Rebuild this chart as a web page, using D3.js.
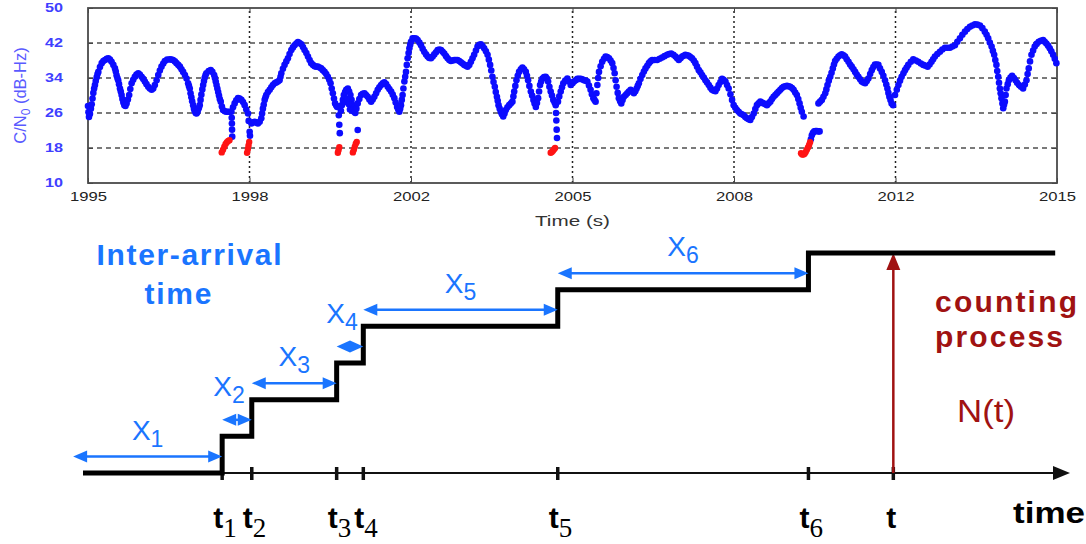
<!DOCTYPE html>
<html><head><meta charset="utf-8">
<script src="https://cdn.jsdelivr.net/npm/d3@7"></script>
<style>body{margin:0;background:#fff}svg{display:block}</style>
</head><body><svg id="c" width="1086" height="544"></svg>
<script>
// ---------- top panel data ----------
const yearTicks = [0,1,2,3,4,5,6];
const yearLabels = ["1995","1998","2002","2005","2008","2012","2015"];
const cnTicks = [10,18,26,34,42,50];
const cnGrid = [18,26,34,42];
// [time (tick units), C/N0 dB-Hz]
const blueSamples = [
[0.000,27.6],[0.003,26.2],[0.006,25.1],[0.012,25.8],[0.018,27.0],[0.023,28.0],[0.028,29.3],[0.033,30.6],[0.038,31.6],[0.043,32.4],[0.048,33.3],[0.054,34.2],[0.059,34.9],[0.064,35.4],[0.074,36.5],[0.085,37.4],[0.095,37.9],[0.105,38.1],[0.116,38.4],[0.126,38.5],[0.136,38.2],[0.146,37.7],[0.157,37.0],[0.167,36.2],[0.172,35.5],[0.177,34.6],[0.182,34.0],[0.187,33.5],[0.192,32.6],[0.198,31.6],[0.203,30.9],[0.208,30.1],[0.213,29.2],[0.219,28.4],[0.225,27.8],[0.232,27.6],[0.239,28.2],[0.247,29.1],[0.255,30.1],[0.262,31.5],[0.270,32.8],[0.280,33.6],[0.290,34.3],[0.300,34.8],[0.311,35.1],[0.321,34.8],[0.332,34.3],[0.342,33.8],[0.352,33.2],[0.362,32.6],[0.373,32.0],[0.383,31.6],[0.394,31.3],[0.404,31.6],[0.414,32.4],[0.425,33.5],[0.435,34.7],[0.445,35.7],[0.455,36.6],[0.466,37.3],[0.476,37.9],[0.490,38.2],[0.507,38.3],[0.517,38.2],[0.527,38.1],[0.538,37.8],[0.548,37.4],[0.559,37.0],[0.569,36.6],[0.579,36.0],[0.589,35.4],[0.600,34.7],[0.610,33.9],[0.620,32.8],[0.625,32.2],[0.630,31.6],[0.635,30.5],[0.640,29.6],[0.645,28.7],[0.651,27.8],[0.656,27.0],[0.661,26.4],[0.667,26.0],[0.672,25.9],[0.677,26.2],[0.682,26.8],[0.687,27.2],[0.692,27.8],[0.697,29.0],[0.702,30.2],[0.708,31.4],[0.713,32.4],[0.718,33.3],[0.723,34.1],[0.728,34.7],[0.733,35.1],[0.747,35.6],[0.760,35.8],[0.770,35.4],[0.781,34.7],[0.786,34.0],[0.791,33.2],[0.796,32.4],[0.801,31.6],[0.806,30.8],[0.811,30.0],[0.816,29.2],[0.822,28.6],[0.829,27.5],[0.836,26.7],[0.847,26.4],[0.857,26.3],[0.867,26.3],[0.878,26.3],[0.888,26.3],[0.898,27.3],[0.908,28.2],[0.918,28.9],[0.929,29.4],[0.939,29.3],[0.950,29.0],[0.960,28.5],[0.970,27.8],[0.980,26.8],[0.991,25.9],
[0.890,24.9],[0.891,23.6],[0.892,22.2],[0.893,20.6],
[0.995,24.2],[1.001,21.7],[1.003,20.8],
[1.012,23.6],[1.022,23.9],[1.032,24.0],[1.042,23.8],[1.052,23.6],[1.063,24.0],[1.073,24.8],[1.078,25.9],[1.083,27.0],[1.088,27.9],[1.094,29.0],[1.099,29.6],[1.104,30.1],[1.114,30.8],[1.125,31.3],[1.135,31.9],[1.145,32.4],[1.156,32.8],[1.166,33.0],[1.176,33.2],[1.186,33.5],[1.192,34.3],[1.197,35.1],[1.207,36.1],[1.217,37.0],[1.228,37.8],[1.238,38.5],[1.248,39.5],[1.259,40.4],[1.269,41.0],[1.279,41.5],[1.290,41.9],[1.300,42.2],[1.310,42.0],[1.321,41.7],[1.331,41.1],[1.341,40.4],[1.352,39.7],[1.362,38.9],[1.372,38.1],[1.382,37.4],[1.393,37.0],[1.403,36.7],[1.413,36.6],[1.423,36.6],[1.434,36.4],[1.444,36.2],[1.454,35.8],[1.465,35.4],[1.475,34.9],[1.485,34.3],[1.494,33.6],[1.502,32.8],[1.509,31.6],[1.516,30.5],[1.523,29.3],[1.530,28.2],[1.537,27.7],[1.543,27.4],
[1.553,25.5],[1.556,23.3],[1.559,21.4],
[1.566,26.5],[1.572,27.8],[1.578,29.0],[1.584,30.1],[1.592,30.8],[1.599,31.3],[1.609,31.6],[1.617,30.9],[1.625,30.1],[1.632,29.0],[1.640,27.8],
[1.595,28.5],[1.605,29.2],[1.615,28.0],[1.622,26.8],[1.635,26.5],[1.648,26.3],[1.655,26.0],
[1.670,22.1],
[1.662,27.0],[1.670,28.2],[1.680,29.2],[1.691,30.1],[1.701,30.4],[1.712,30.5],[1.722,30.1],[1.732,29.7],[1.742,29.1],[1.753,28.6],[1.763,29.1],[1.773,29.7],[1.784,30.5],[1.794,31.3],[1.804,31.9],[1.815,32.4],[1.825,32.8],[1.835,33.0],[1.846,32.6],[1.856,32.0],[1.866,31.5],[1.877,30.9],[1.887,30.2],[1.897,29.4],[1.905,28.4],[1.914,27.4],[1.921,26.8],[1.928,26.3],[1.933,27.0],[1.938,27.8],[1.943,29.0],[1.948,30.1],[1.953,31.6],[1.959,33.2],[1.964,34.3],[1.969,35.4],[1.974,37.0],[1.979,38.5],[1.985,39.7],[1.990,40.8],[1.995,41.6],[2.000,42.3],[2.010,43.1],
[2.021,43.1],[2.031,43.0],[2.041,42.7],[2.052,42.1],[2.062,41.5],[2.072,40.7],[2.082,40.0],[2.093,39.4],[2.103,38.9],[2.113,38.6],[2.124,38.5],[2.134,38.9],[2.144,39.4],[2.155,39.9],[2.165,40.4],[2.176,40.5],[2.186,40.4],[2.196,40.0],[2.206,39.6],[2.217,39.0],[2.227,38.5],[2.237,38.1],[2.247,37.9],[2.258,38.0],[2.268,38.1],[2.278,38.1],[2.288,38.1],[2.299,37.9],[2.309,37.6],[2.319,37.3],[2.330,37.0],[2.340,36.8],[2.350,36.6],[2.361,37.0],[2.371,37.7],[2.381,38.5],[2.391,39.3],[2.402,40.3],[2.412,41.2],[2.422,41.6],[2.433,41.7],[2.443,41.3],[2.453,40.8],[2.464,40.1],[2.474,39.3],[2.482,38.2],[2.490,37.0],[2.497,35.7],[2.504,34.3],[2.511,33.1],[2.519,32.0],[2.525,30.8],[2.532,29.7],[2.537,28.8],[2.542,27.8],[2.549,27.0],[2.556,26.3],[2.563,25.7],[2.571,25.2],[2.579,25.9],[2.587,26.7],[2.597,27.3],[2.608,27.8],[2.618,28.2],[2.628,28.6],[2.634,29.8],[2.639,30.9],[2.646,32.2],[2.653,33.5],[2.661,34.5],[2.669,35.4],[2.680,36.0],[2.690,36.4],[2.700,36.0],[2.711,35.4],[2.718,34.5],[2.725,33.5],[2.733,32.2],[2.742,30.9],[2.750,30.0],[2.758,29.0],[2.765,28.2],[2.773,27.4],[2.780,28.3],[2.787,29.4],[2.793,30.9],[2.799,32.4],[2.806,33.2],[2.814,33.9],[2.824,34.2],[2.834,34.3],[2.842,33.9],[2.849,33.2],[2.857,32.0],[2.865,30.9],[2.873,30.0],[2.881,29.0],[2.889,28.4],[2.896,27.8],
[2.898,26.0],[2.900,24.3],[2.902,22.2],[2.904,20.3],
[2.910,28.6],[2.918,29.8],[2.927,30.9],[2.935,31.9],[2.943,32.8],[2.955,33.4],[2.968,33.9],[2.978,33.2],[2.989,32.4],
[3.000,32.8],[3.009,33.2],[3.020,33.5],[3.030,33.8],[3.040,33.8],[3.051,33.8],[3.061,33.7],[3.071,33.5],[3.082,33.4],[3.092,33.2],[3.102,32.3],[3.112,31.3],[3.120,30.3],[3.129,29.4],[3.136,29.0],[3.143,28.6],[3.148,30.5],[3.154,32.4],[3.159,34.0],[3.164,35.4],[3.174,36.7],[3.184,37.7],[3.195,38.4],[3.205,38.9],[3.215,38.8],[3.226,38.5],[3.236,38.0],[3.246,37.4],[3.254,36.3],[3.261,35.1],[3.267,33.5],[3.273,32.0],[3.280,30.6],[3.287,29.4],[3.295,28.7],[3.302,28.2],[3.310,29.0],[3.318,29.7],[3.329,30.1],[3.339,30.5],[3.349,30.9],[3.360,31.3],[3.370,30.9],[3.380,30.5],[3.389,31.0],[3.397,31.6],[3.404,32.2],[3.411,32.8],[3.421,33.8],[3.432,34.7],[3.442,35.5],[3.452,36.2],[3.463,36.8],[3.473,37.4],[3.483,37.8],[3.493,38.1],[3.509,38.1],[3.524,38.1],[3.540,38.4],[3.555,38.7],[3.570,39.0],[3.586,39.3],[3.598,39.5],[3.611,39.6],[3.625,39.3],[3.638,38.9],[3.648,38.5],[3.658,38.1],[3.669,38.5],[3.679,38.9],[3.689,39.1],[3.699,39.3],[3.710,39.2],[3.720,39.1],[3.730,38.8],[3.740,38.5],[3.751,38.0],[3.761,37.4],[3.771,36.6],[3.782,35.8],[3.792,35.3],[3.802,34.7],[3.813,34.1],[3.823,33.5],[3.833,33.0],[3.844,32.4],[3.854,31.8],[3.864,31.3],[3.875,31.1],[3.885,31.0],[3.895,31.6],[3.905,32.4],[3.916,33.1],[3.926,33.8],[3.936,33.6],[3.947,33.2],[3.957,32.4],[3.967,31.6],[3.978,30.3],[3.988,29.0],[3.998,27.8],
[4.008,27.2],[4.018,26.7],[4.029,26.3],[4.039,25.9],[4.049,25.7],[4.060,25.5],[4.070,25.1],[4.080,24.8],[4.091,24.6],[4.101,24.4],[4.111,25.1],[4.122,25.9],[4.132,26.9],[4.142,27.8],[4.152,28.2],[4.163,28.6],[4.173,28.4],[4.183,28.2],[4.194,28.0],[4.204,27.8],[4.214,28.2],[4.225,28.6],[4.235,29.2],[4.245,29.7],[4.256,30.1],[4.266,30.5],[4.276,30.9],[4.287,31.3],[4.297,31.7],[4.307,32.0],[4.318,32.1],[4.328,32.2],[4.338,32.1],[4.348,32.0],[4.359,31.7],[4.369,31.3],[4.379,30.7],[4.389,30.1],[4.398,29.2],[4.406,28.2],[4.413,27.2],[4.420,26.3],[4.431,25.2],
[4.476,20.0],[4.482,20.9],[4.489,21.5],[4.497,21.8],[4.505,21.9],[4.513,21.9],[4.522,21.8],[4.530,21.8],
[4.523,28.2],[4.533,28.6],[4.544,29.0],[4.554,29.7],[4.565,30.5],[4.572,31.4],[4.579,32.4],[4.587,33.4],[4.596,34.3],[4.604,35.2],[4.612,36.2],[4.619,37.1],[4.626,37.9],[4.636,38.4],[4.647,38.9],[4.657,39.2],[4.667,39.4],[4.678,39.2],[4.688,38.9],[4.698,38.3],[4.709,37.7],[4.719,37.1],[4.729,36.6],[4.740,36.0],[4.750,35.4],[4.760,34.8],[4.770,34.3],[4.781,33.7],[4.791,33.2],[4.801,33.0],[4.812,32.8],[4.822,33.3],[4.832,33.9],[4.843,34.9],[4.853,35.8],[4.863,36.5],[4.873,37.1],[4.884,37.1],[4.894,37.0],[4.904,36.2],[4.915,35.4],[4.925,34.5],[4.935,33.5],[4.943,32.5],[4.950,31.6],[4.956,30.6],[4.962,29.7],[4.969,29.0],[4.976,28.2],[4.985,27.8],
[4.997,30.1],[5.008,31.3],[5.018,32.4],[5.028,33.4],[5.038,34.3],[5.049,35.1],[5.059,35.8],[5.069,36.4],[5.079,37.0],[5.095,37.7],[5.110,38.3],[5.126,38.0],[5.141,37.7],[5.157,37.3],[5.172,37.0],[5.186,36.8],[5.199,36.6],[5.211,37.1],[5.223,37.7],[5.233,38.3],[5.244,38.9],[5.259,39.5],[5.275,40.0],[5.290,40.5],[5.306,40.9],[5.321,40.9],[5.337,40.9],[5.352,41.2],[5.368,41.5],[5.383,42.3],[5.399,43.1],[5.414,43.9],[5.430,44.6],[5.445,45.2],[5.461,45.7],[5.476,46.0],[5.492,46.3],[5.507,46.2],[5.523,46.0],[5.538,45.4],[5.553,44.6],[5.564,43.9],[5.574,43.1],[5.584,42.1],[5.595,41.2],[5.603,40.2],[5.611,39.3],[5.618,38.1],[5.625,37.0],[5.630,35.6],[5.636,34.3],[5.641,32.9],[5.646,31.6],[5.651,30.5],[5.656,29.4],[5.662,28.2],[5.667,27.1],[5.672,27.9],[5.677,28.6],[5.682,30.1],[5.687,31.6],[5.695,32.6],[5.702,33.5],[5.712,34.1],[5.722,34.5],[5.733,34.0],[5.743,33.5],[5.753,32.9],[5.764,32.4],[5.777,32.0],[5.790,31.6],[5.801,32.5],[5.811,33.5],[5.818,34.9],[5.825,36.2],[5.833,37.8],[5.842,39.3],[5.852,40.3],[5.862,41.2],[5.874,41.8],[5.887,42.3],[5.900,42.5],[5.914,42.7],[5.924,42.3],[5.934,41.9],[5.945,41.4],[5.955,40.8],[5.965,40.1],[5.976,39.3],[5.986,38.4],[5.996,37.4]
];
const redSamples = [
[0.828,17.0],[0.836,17.6],[0.844,18.3],[0.852,18.9],[0.860,19.3],[0.868,19.6],[0.876,19.8],
[0.985,16.9],[0.990,17.8],[0.994,18.6],[0.998,19.4],
[1.547,16.9],[1.551,17.5],[1.556,18.2],
[1.640,17.0],[1.646,17.6],[1.652,18.3],[1.658,19.0],[1.664,19.4],
[2.865,16.9],[2.872,17.1],[2.879,17.4],[2.886,17.7],[2.892,18.0],
[4.415,16.8],[4.422,16.5],[4.430,16.5],[4.437,16.7],[4.444,17.1],[4.451,17.6],[4.458,18.1],[4.465,18.7],[4.471,19.3]
];

// ---------- bottom panel data ----------
const arrivalTimes = [1.41, 1.71, 2.57, 2.84, 4.81, 7.35];   // t1..t6
const arrivalNames = ["1","2","3","4","5","6"];
const observeTime = 8.21;                                    // t
const firstArrowStart = -0.1;
const stepEndTime = 9.85;
const timeAxisEnd = 10;
const counts = [0,1,2,3,4,5,6];

const SANS = "'Liberation Sans', Arial, Helvetica, sans-serif";
const SERIF = "'Liberation Serif', 'Times New Roman', serif";
const BLUE = "#1a75ff", DRED = "#a01212";

const svg = d3.select("#c");

// ================= TOP PANEL =================
const x = d3.scaleLinear().domain([0,6]).range([88,1057]);
const y = d3.scaleLinear().domain([10,50]).range([183,8]);
const topG = svg.append("g");

// grids
topG.selectAll(".hg").data(cnGrid).join("line")
  .attr("x1", x(0)).attr("x2", x(6)).attr("y1", d=>y(d)).attr("y2", d=>y(d))
  .attr("stroke","#7a7a7a").attr("stroke-width",1.8).attr("stroke-dasharray","5,4");
topG.selectAll(".vg").data(yearTicks.slice(1,-1)).join("line")
  .attr("x1", d=>x(d)).attr("x2", d=>x(d)).attr("y1", y(10)).attr("y2", y(50))
  .attr("stroke","#222").attr("stroke-width",1.5).attr("stroke-dasharray","2,3");

// axes (ticks inside, MATLAB style)
const ax = topG.append("g").attr("transform",`translate(0,${y(10)})`)
  .call(d3.axisBottom(x).tickValues(yearTicks).tickFormat((d,i)=>yearLabels[i]).tickSize(-5).tickPadding(9));
ax.select(".domain").remove();
ax.selectAll("line").attr("stroke","#444");
ax.selectAll("text").attr("font-family",SANS).attr("font-size",13).attr("fill","#222")
  .attr("textLength",37).attr("lengthAdjust","spacingAndGlyphs");
const ay = topG.append("g").attr("transform",`translate(${x(0)},0)`)
  .call(d3.axisLeft(y).tickValues(cnTicks).tickSize(-5).tickPadding(25));
ay.select(".domain").remove();
ay.selectAll("line").attr("stroke","#444");
ay.selectAll("text").attr("font-family",SANS).attr("font-size",12).attr("font-weight","bold")
  .attr("fill","#3f3fff").attr("textLength",18).attr("lengthAdjust","spacingAndGlyphs");
const ar = topG.append("g").attr("transform",`translate(${x(6)},0)`)
  .call(d3.axisRight(y).tickValues(cnTicks).tickSize(-5).tickFormat(""));
ar.select(".domain").remove(); ar.selectAll("line").attr("stroke","#444");
const at = topG.append("g").attr("transform",`translate(0,${y(50)})`)
  .call(d3.axisTop(x).tickValues(yearTicks).tickSize(-5).tickFormat(""));
at.select(".domain").remove(); at.selectAll("line").attr("stroke","#444");

// frame
topG.append("rect").attr("x",x(0)).attr("y",y(50)).attr("width",x(6)-x(0)).attr("height",y(10)-y(50))
  .attr("fill","none").attr("stroke","#4a4a4a").attr("stroke-width",1.8);

// markers
topG.append("g").selectAll("circle").data(blueSamples).join("circle")
  .attr("cx",d=>x(d[0])).attr("cy",d=>y(d[1])).attr("r",3.3).attr("fill","#0c0cff");
topG.append("g").selectAll("circle").data(redSamples).join("circle")
  .attr("cx",d=>x(d[0])).attr("cy",d=>y(d[1])).attr("r",3.2).attr("fill","#ff1414");

// axis titles
topG.append("text").attr("x",(x(0)+x(6))/2).attr("y",226).attr("text-anchor","middle")
  .attr("font-family",SANS).attr("font-size",15).attr("fill","#333")
  .attr("textLength",75).attr("lengthAdjust","spacingAndGlyphs").text("Time (s)");
const yt = topG.append("text").attr("transform",`translate(26,${(y(10)+y(50))/2}) rotate(-90)`)
  .attr("text-anchor","middle").attr("font-family",SANS).attr("font-size",16.5).attr("fill","#5a5aff");
yt.append("tspan").text("C/N");
yt.append("tspan").attr("font-size",12).attr("dy",4).text("0");
yt.append("tspan").attr("dy",-4).text(" (dB-Hz)");

// ================= BOTTOM PANEL =================
const bx = d3.scaleLinear().domain([0,timeAxisEnd]).range([83,1070]);
const by = d3.scaleLinear().domain([0,6]).range([473,253]);
const bot = svg.append("g");

// time axis with arrow
bot.append("line").attr("x1",bx(0)).attr("x2",bx(timeAxisEnd)-12).attr("y1",by(0)).attr("y2",by(0))
  .attr("stroke","#111").attr("stroke-width",2);
bot.append("path").attr("d",`M${bx(timeAxisEnd)},${by(0)} l-17,-7 l0,14 z`).attr("fill","#111");

// ticks
bot.selectAll(".tk").data(arrivalTimes.concat([observeTime])).join("line")
  .attr("x1",d=>bx(d)).attr("x2",d=>bx(d)).attr("y1",by(0)-6).attr("y2",by(0)+7)
  .attr("stroke","#111").attr("stroke-width",3.5);

// red arrow N(t)
const rxp = bx(observeTime);
bot.append("line").attr("x1",rxp).attr("x2",rxp).attr("y1",by(0)).attr("y2",by(6)+14)
  .attr("stroke",DRED).attr("stroke-width",2.5);
bot.append("path").attr("d",`M${rxp},${by(6)} l-7,17 l14,0 z`).attr("fill",DRED);

// counting step function
const stepPts = [[0,counts[0]]].concat(arrivalTimes.map((t,i)=>[t,counts[i+1]])).concat([[stepEndTime,counts[6]]]);
bot.append("path").datum(stepPts)
  .attr("d", d3.line().x(d=>bx(d[0])).y(d=>by(d[1])).curve(d3.curveStepAfter))
  .attr("fill","none").attr("stroke","#000").attr("stroke-width",5).attr("stroke-linejoin","miter");

// inter-arrival arrows
const arrows = arrivalTimes.map((t,i)=>({
  a: i===0 ? firstArrowStart : arrivalTimes[i-1], b: t, lvl: counts[i] + 0.45, name: arrivalNames[i]
}));
const ag = bot.append("g");
arrows.forEach(o=>{
  const x1 = bx(o.a), x2 = bx(o.b), yy = by(o.lvl);
  const hl = Math.min(14, (x2-x1)/2);
  ag.append("line").attr("x1",x1+hl-1).attr("x2",x2-hl+1).attr("y1",yy).attr("y2",yy)
    .attr("stroke",BLUE).attr("stroke-width",2.5);
  ag.append("path").attr("d",`M${x1},${yy} l${hl},-6 l0,12 z`).attr("fill",BLUE);
  ag.append("path").attr("d",`M${x2},${yy} l${-hl},-6 l0,12 z`).attr("fill",BLUE);
  const short = (x2-x1) < 50;
  const lt = ag.append("text").attr("x",(x1+x2)/2 - (short?8:0)).attr("y",yy - (short?24:17))
    .attr("text-anchor","middle").attr("font-family",SANS).attr("font-size",28).attr("fill",BLUE);
  lt.append("tspan").text("X");
  lt.append("tspan").attr("font-size",23).attr("dy",7).text(o.name);
});

// time labels t_i
const tl = bot.append("g");
arrivalTimes.forEach((t,i)=>{
  const tx = tl.append("text").attr("x",bx(t)-9).attr("y",528).attr("font-family",SANS)
    .attr("font-size",30).attr("font-weight","bold").attr("fill","#000");
  tx.append("tspan").text("t");
  tx.append("tspan").attr("font-family",SERIF).attr("font-weight","normal").attr("font-size",27).attr("dy",9).text(arrivalNames[i]);
});
tl.append("text").attr("x",bx(observeTime)-2).attr("y",528).attr("text-anchor","middle")
  .attr("font-family",SANS).attr("font-size",30).attr("font-weight","bold").text("t");
tl.append("text").attr("x",1013).attr("y",523).attr("font-family",SANS).attr("font-size",30)
  .attr("font-weight","bold").attr("textLength",72).attr("lengthAdjust","spacingAndGlyphs").text("time");

// annotations
const ann = bot.append("g").attr("font-family",SANS);
ann.append("text").attr("x",189).attr("y",265).attr("text-anchor","middle").attr("font-size",30)
  .attr("font-weight","bold").attr("fill",BLUE).attr("textLength",185).attr("lengthAdjust","spacing").text("Inter-arrival");
ann.append("text").attr("x",178).attr("y",304).attr("text-anchor","middle").attr("font-size",30)
  .attr("font-weight","bold").attr("fill",BLUE).attr("textLength",67).attr("lengthAdjust","spacing").text("time");
ann.append("text").attr("x",935).attr("y",312).attr("font-size",30).attr("font-weight","bold")
  .attr("fill",DRED).attr("textLength",142).attr("lengthAdjust","spacing").text("counting");
ann.append("text").attr("x",935).attr("y",347).attr("font-size",30).attr("font-weight","bold")
  .attr("fill",DRED).attr("textLength",128).attr("lengthAdjust","spacing").text("process");
ann.append("text").attr("x",957).attr("y",422).attr("font-size",32)
  .attr("fill",DRED).attr("textLength",58).attr("lengthAdjust","spacingAndGlyphs").text("N(t)");
</script></body></html>
